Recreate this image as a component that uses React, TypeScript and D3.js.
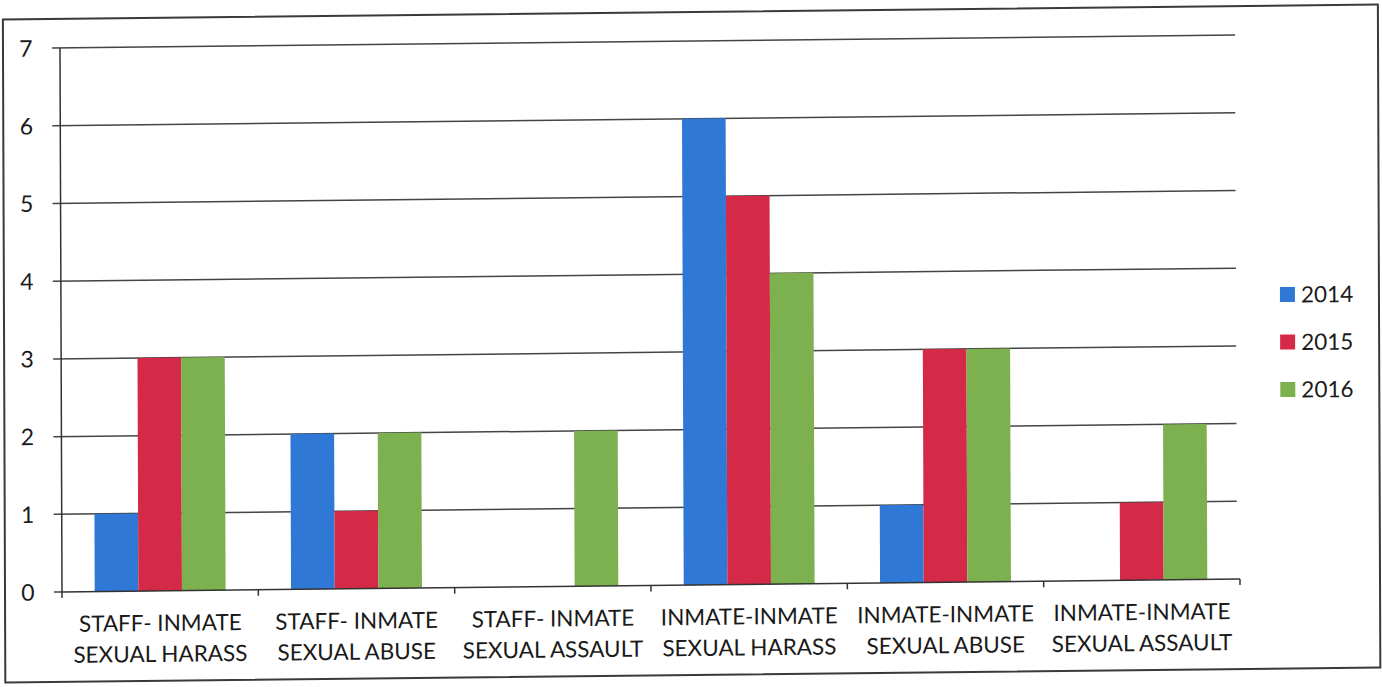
import React from "react";
import * as d3 from "d3";

const categories: string[][] = [
  ["STAFF- INMATE", "SEXUAL HARASS"],
  ["STAFF- INMATE", "SEXUAL ABUSE"],
  ["STAFF- INMATE", "SEXUAL ASSAULT"],
  ["INMATE-INMATE", "SEXUAL HARASS"],
  ["INMATE-INMATE", "SEXUAL ABUSE"],
  ["INMATE-INMATE", "SEXUAL ASSAULT"],
];
const seriesNames = ["2014", "2015", "2016"];
const values2014 = [1, 2, 0, 6, 1, 0];
const values2015 = [3, 1, 0, 5, 3, 1];
const values2016 = [3, 2, 2, 4, 3, 2];
const yTicks = [0, 1, 2, 3, 4, 5, 6, 7];
const colors = ["#2F78D6", "#D42A48", "#7DB04F"];

const W = 1382;
const H = 687;
const FONT = "Lato, 'Open Sans', sans-serif";

export default function App() {
  const series = [values2014, values2015, values2016];
  const left = 62;
  const right = 1240;
  const top = 48;
  const bottom = 592;
  const x0 = d3
    .scaleBand<number>()
    .domain(categories.map((_, i) => i))
    .range([left, right])
    .paddingInner(0)
    .paddingOuter(0);
  const bw = x0.bandwidth();
  const barW = bw / 4.5;
  const y = d3.scaleLinear().domain([0, 7]).range([bottom, top]);
  // slight scan skew
  const a = 0.0037;
  const b = -0.011;
  const e = -a * bottom;
  const f = -b * 60;
  return (
    <svg
      width={W}
      height={H}
      style={{ position: "absolute", left: 0, top: 0, background: "#fff" }}
      fontFamily={FONT}
    >
      <g transform={`matrix(1 ${b} ${a} 1 ${e} ${f})`}>
        <rect x={5} y={19} width={1375} height={663} fill="none" stroke="#3a3a3a" strokeWidth={2} />
        {yTicks.map((t) => (
          <g key={t}>
            <line x1={54} x2={t === 0 ? left : 1237} y1={y(t)} y2={y(t)} stroke="#444" strokeWidth={1.5} />
            <text x={28} y={y(t)} dy="0.36em" textAnchor="middle" fontSize={23} fill="#1a1a1a">
              {t}
            </text>
          </g>
        ))}
        <line x1={left} x2={left} y1={top} y2={bottom} stroke="#333" strokeWidth={1.5} />
        {categories.map((_, i) =>
          series.map((s, j) =>
            s[i] > 0 ? (
              <rect
                key={`${i}-${j}`}
                x={(x0(i) as number) + bw * (0.75 / 4.5) + j * barW}
                y={y(s[i])}
                width={barW}
                height={y(0) - y(s[i])}
                fill={colors[j]}
              />
            ) : null
          )
        )}
        <line x1={left} x2={right} y1={bottom} y2={bottom} stroke="#333" strokeWidth={1.5} />
        {d3.range(categories.length + 1).map((i) => {
          const xx = left + i * bw;
          return <line key={i} x1={xx} x2={xx} y1={bottom} y2={bottom + 6} stroke="#333" strokeWidth={1.5} />;
        })}
        {categories.map((c, i) => (
          <text key={i} textAnchor="middle" fontSize={22.5} fill="#1a1a1a">
            {c.map((line, k) => (
              <tspan key={k} x={(x0(i) as number) + bw / 2} y={632 + k * 31}>
                {line}
              </tspan>
            ))}
          </text>
        ))}
        {seriesNames.map((n, j) => (
          <g key={n} transform={`translate(1281, ${308 + j * 47.5})`}>
            <rect x={0} y={-7.5} width={15} height={15} fill={colors[j]} />
            <text x={21} y={0} dy="0.36em" fontSize={22.5} fill="#1a1a1a">
              {n}
            </text>
          </g>
        ))}
      </g>
    </svg>
  );
}
